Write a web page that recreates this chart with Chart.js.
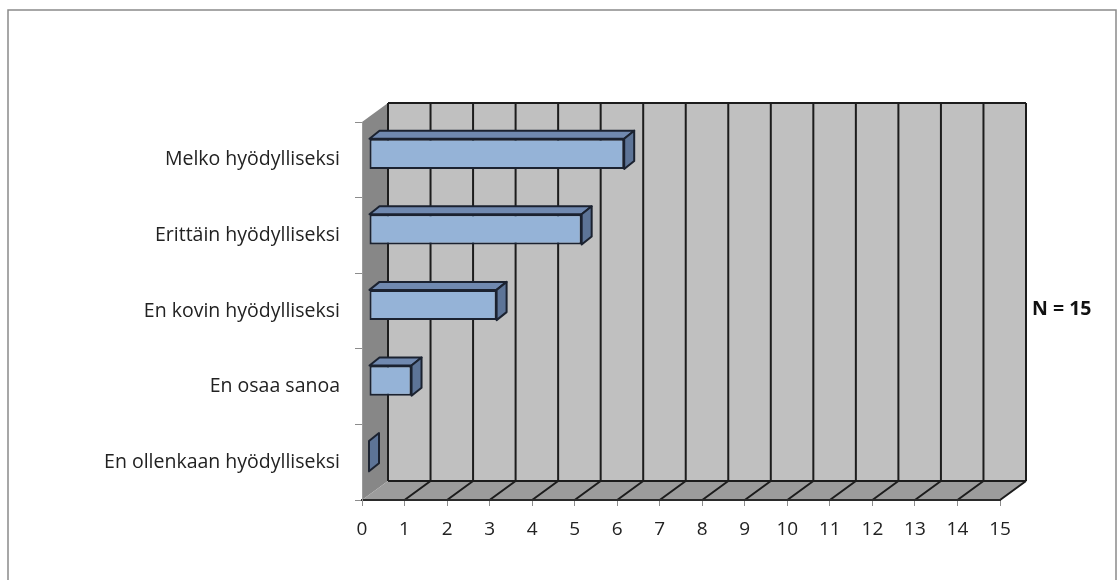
<!DOCTYPE html>
<html>
<head>
<meta charset="utf-8">
<script src="https://cdn.jsdelivr.net/npm/chart.js@4.4.0/dist/chart.umd.min.js"></script>
<style>
  html, body { margin: 0; padding: 0; background: #ffffff; }
  #wrap { width: 1117px; height: 580px; position: relative; }
</style>
</head>
<body>
<div id="wrap"><canvas id="chart" width="1117" height="580"></canvas></div>
<script>
// Answers, listed top to bottom as they appear on the vertical axis
const categories = [
  'Melko hyödylliseksi',
  'Erittäin hyödylliseksi',
  'En kovin hyödylliseksi',
  'En osaa sanoa',
  'En ollenkaan hyödylliseksi'
];
const counts = [6, 5, 3, 1, 0];
const xTicks = [0, 1, 2, 3, 4, 5, 6, 7, 8, 9, 10, 11, 12, 13, 14, 15];
const noteText = 'N = 15';

const FONT = '"Open Sans", "Liberation Sans", sans-serif';

// Perspective of the box: back wall offset from the front plane
const WALL_DX = 26, WALL_DY = -19;
// Bars sit partway into the box and have their own depth
const BAR_DX = 7, BAR_DY = -6;
const BAR_DEPTH_X = 10, BAR_DEPTH_Y = -8;

const box3d = {
  id: 'box3d',
  beforeDraw(chart) {
    const ctx = chart.ctx;
    const xs = chart.scales.x, ys = chart.scales.y;
    const L = xs.getPixelForValue(xTicks[0]);
    const R = xs.getPixelForValue(xTicks[xTicks.length - 1]);
    const T = ys.top, B = ys.bottom;
    ctx.save();
    // outer frame
    ctx.strokeStyle = '#8a8a8a';
    ctx.lineWidth = 1.5;
    ctx.strokeRect(8, 10, 1108, 600);

    // back wall
    ctx.fillStyle = '#c0c0c0';
    ctx.fillRect(L + WALL_DX, T + WALL_DY, R - L, B - T);
    // left side wall
    ctx.fillStyle = '#878787';
    ctx.beginPath();
    ctx.moveTo(L, T); ctx.lineTo(L + WALL_DX, T + WALL_DY);
    ctx.lineTo(L + WALL_DX, B + WALL_DY); ctx.lineTo(L, B);
    ctx.closePath(); ctx.fill();
    // floor
    ctx.fillStyle = '#9c9c9c';
    ctx.beginPath();
    ctx.moveTo(L, B); ctx.lineTo(L + WALL_DX, B + WALL_DY);
    ctx.lineTo(R + WALL_DX, B + WALL_DY); ctx.lineTo(R, B);
    ctx.closePath(); ctx.fill();

    // grid lines on the back wall and across the floor
    ctx.strokeStyle = '#1c1c1c';
    ctx.lineWidth = 2;
    ctx.beginPath();
    xTicks.forEach(v => {
      const px = xs.getPixelForValue(v);
      ctx.moveTo(px + WALL_DX, T + WALL_DY);
      ctx.lineTo(px + WALL_DX, B + WALL_DY);
      if (v !== xTicks[0]) {
        ctx.moveTo(px, B);
        ctx.lineTo(px + WALL_DX, B + WALL_DY);
      }
    });
    // top and bottom edges of the back wall
    ctx.moveTo(L + WALL_DX, T + WALL_DY); ctx.lineTo(R + WALL_DX, T + WALL_DY);
    ctx.moveTo(L + WALL_DX, B + WALL_DY); ctx.lineTo(R + WALL_DX, B + WALL_DY);
    ctx.stroke();

    // note on the right
    ctx.fillStyle = '#111111';
    ctx.font = 'bold 19.5px ' + FONT;
    ctx.textAlign = 'left';
    ctx.textBaseline = 'middle';
    ctx.fillText(noteText, 1032, 309);
    ctx.restore();
  },
  beforeDatasetsDraw(chart) {
    chart.ctx.save();
    chart.ctx.translate(BAR_DX, BAR_DY);
  },
  afterDatasetsDraw(chart) {
    const ctx = chart.ctx;
    const meta = chart.getDatasetMeta(0);
    ctx.lineWidth = 2;
    ctx.strokeStyle = '#1b2230';
    ctx.lineJoin = 'round';
    meta.data.forEach(bar => {
      const p = bar.getProps(['x', 'y', 'base', 'height'], true);
      const x0 = p.base, x1 = p.x;
      const top = p.y - p.height / 2, bot = p.y + p.height / 2;
      // top face
      if (x1 > x0) {
        ctx.fillStyle = '#7089b0';
        ctx.beginPath();
        ctx.moveTo(x0, top); ctx.lineTo(x0 + BAR_DEPTH_X, top + BAR_DEPTH_Y);
        ctx.lineTo(x1 + BAR_DEPTH_X, top + BAR_DEPTH_Y); ctx.lineTo(x1, top);
        ctx.closePath(); ctx.fill(); ctx.stroke();
      }
      // end face
      ctx.fillStyle = '#5d7497';
      ctx.beginPath();
      ctx.moveTo(x1, top); ctx.lineTo(x1 + BAR_DEPTH_X, top + BAR_DEPTH_Y);
      ctx.lineTo(x1 + BAR_DEPTH_X, bot + BAR_DEPTH_Y); ctx.lineTo(x1, bot);
      ctx.closePath(); ctx.fill(); ctx.stroke();
    });
    ctx.restore();
  }
};

new Chart(document.getElementById('chart'), {
  type: 'bar',
  data: {
    labels: categories,
    datasets: [{
      data: counts,
      backgroundColor: '#95b3d7',
      borderColor: '#1b2230',
      borderWidth: 2,
      borderSkipped: false,
      barPercentage: 0.4,
      categoryPercentage: 1.0
    }]
  },
  options: {
    indexAxis: 'y',
    responsive: false,
    animation: false,
    devicePixelRatio: 1,
    layout: { padding: { left: 0, top: 122, right: 117, bottom: 0 } },
    plugins: { legend: { display: false }, tooltip: { enabled: false } },
    scales: {
      x: {
        min: xTicks[0],
        max: xTicks[xTicks.length - 1],
        afterFit(scale) { scale.height = 80; },
        afterBuildTicks(scale) { scale.ticks = xTicks.map(v => ({ value: v })); },
        grid: { drawOnChartArea: false, drawTicks: true, tickLength: 6, color: '#8c8c8c', lineWidth: 1 },
        border: { display: true, color: '#2a2a2a', width: 2 },
        ticks: { color: '#222222', font: { family: FONT, size: 19 }, padding: 12, maxRotation: 0, autoSkip: false }
      },
      y: {
        afterFit(scale) { scale.width = 362; },
        grid: { drawOnChartArea: false, drawTicks: true, tickLength: 7, color: '#8c8c8c', lineWidth: 1, offset: true },
        border: { display: true, color: '#9a9a9a', width: 1 },
        ticks: { color: '#222222', font: { family: FONT, size: 19.5 }, padding: 15, autoSkip: false }
      }
    }
  },
  plugins: [box3d]
});
</script>
</body>
</html>
